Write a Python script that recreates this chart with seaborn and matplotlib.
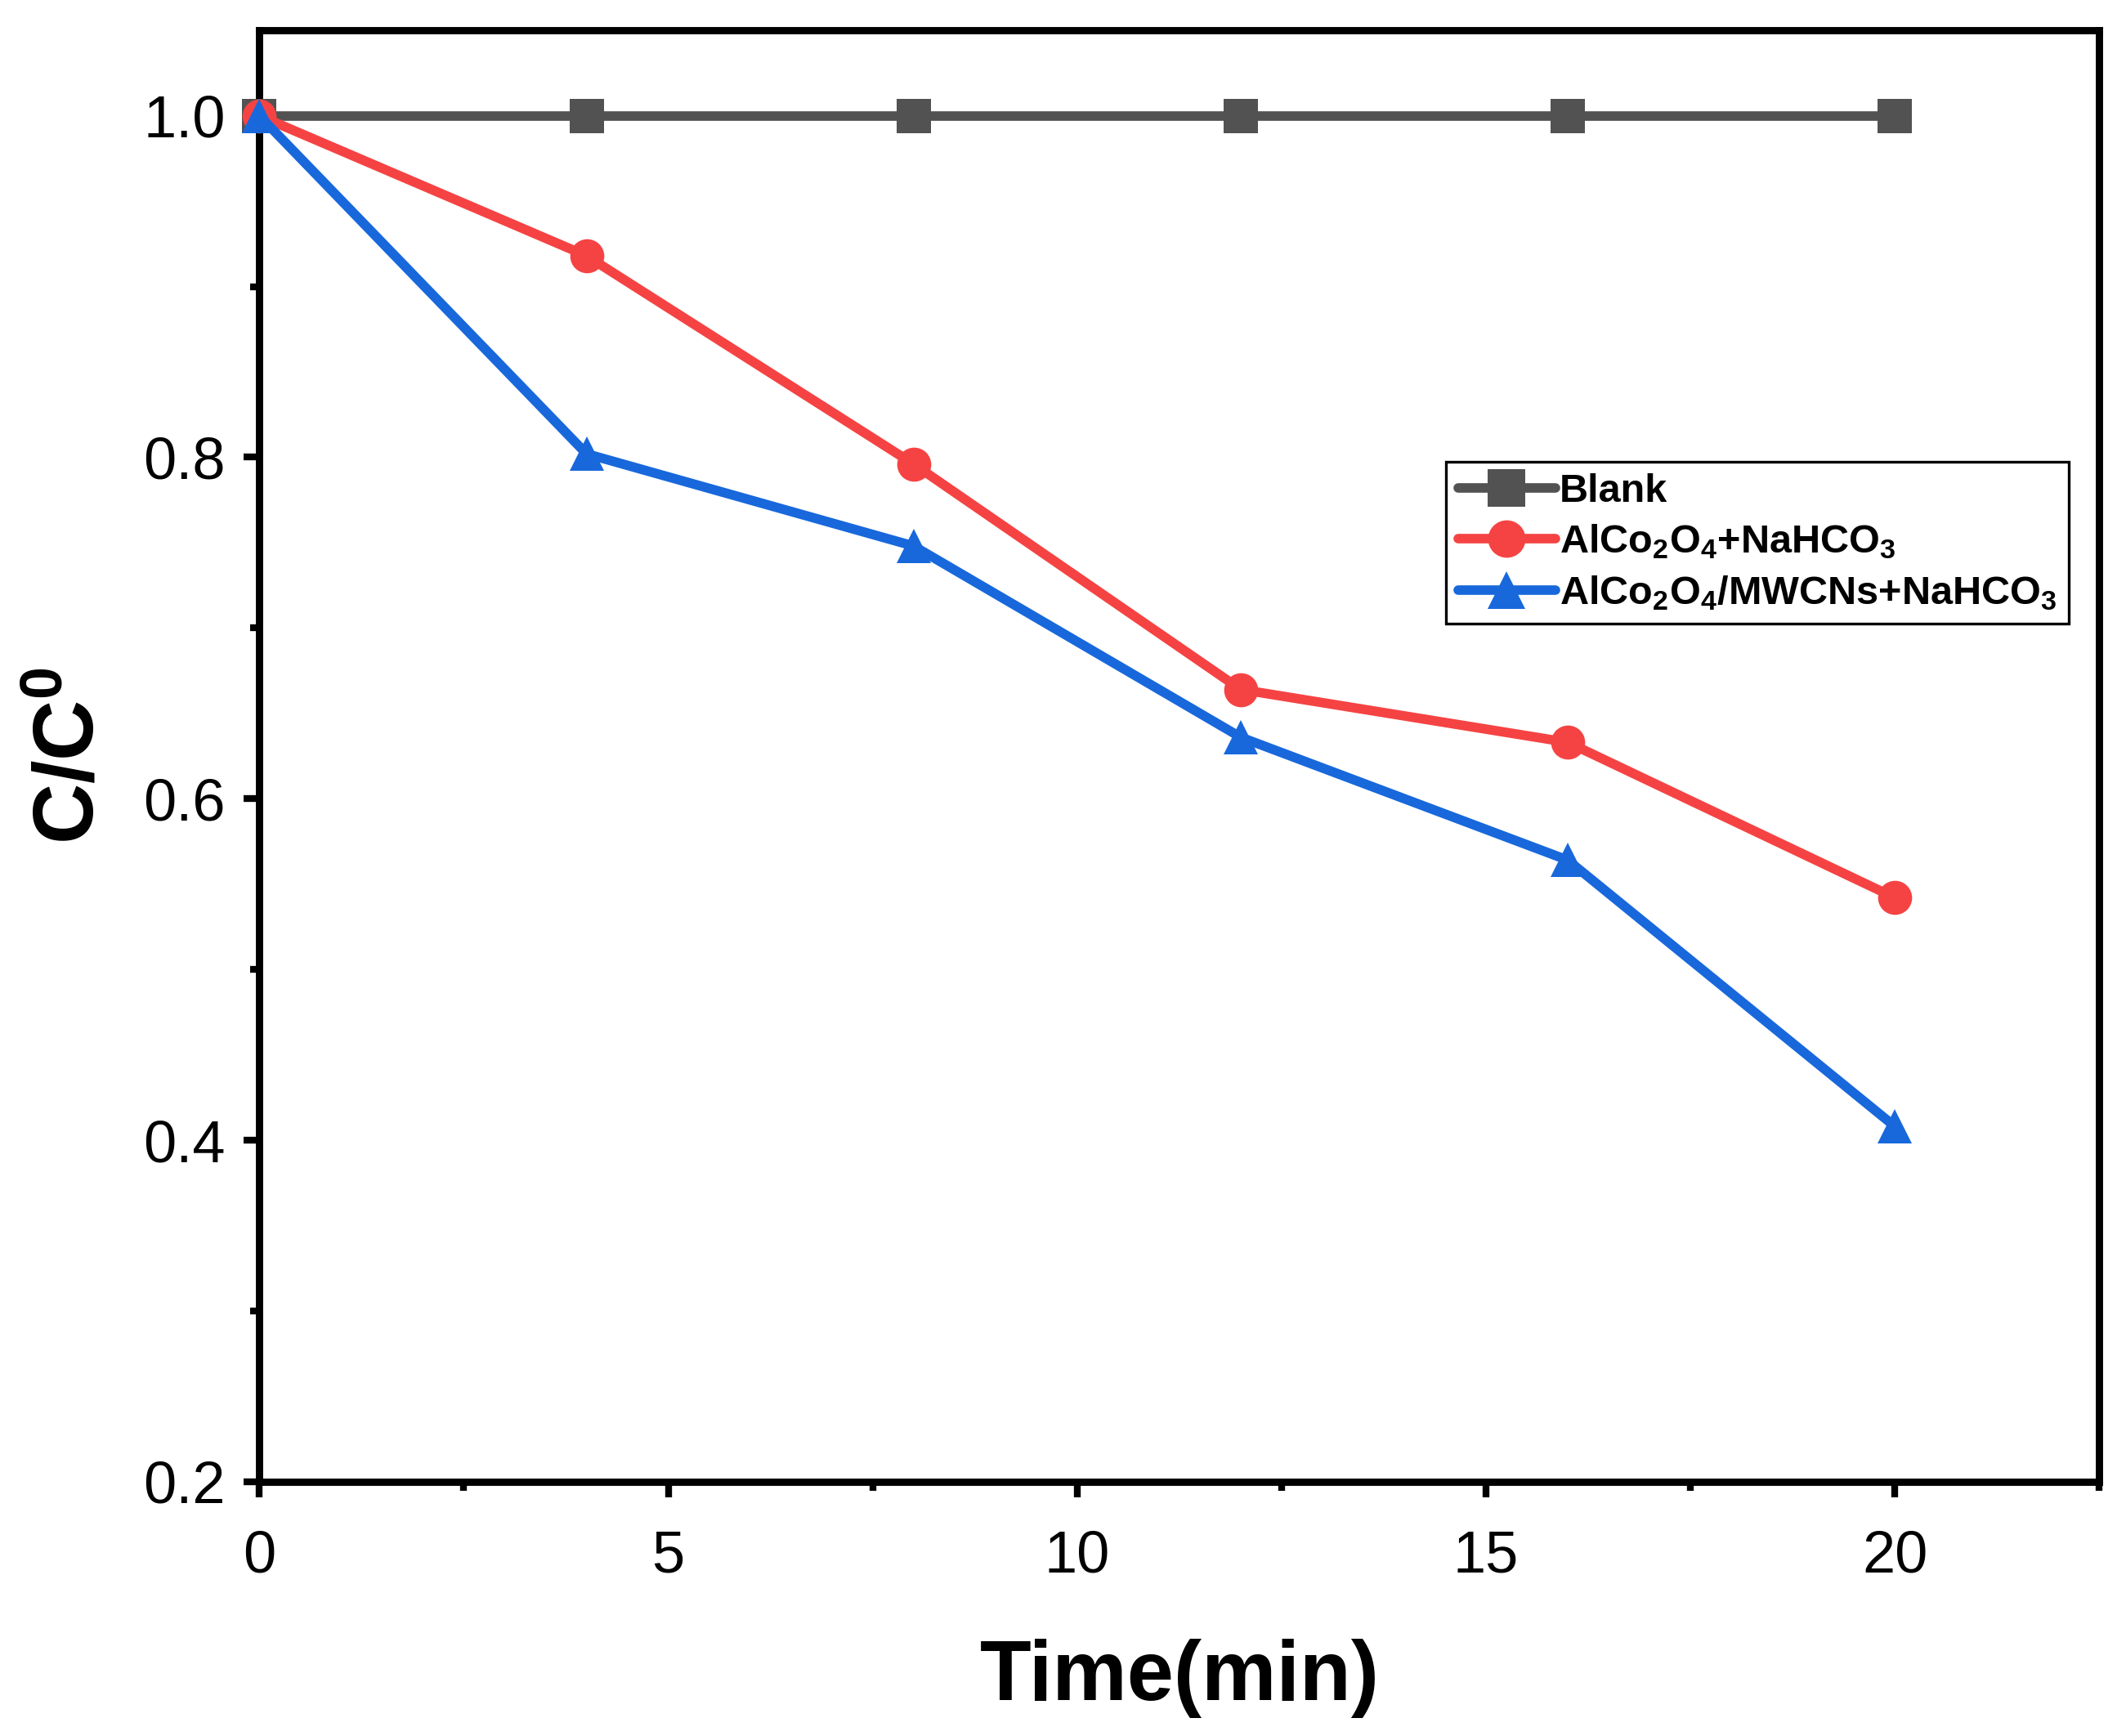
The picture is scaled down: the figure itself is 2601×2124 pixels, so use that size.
import numpy as np
import pandas as pd
import matplotlib
matplotlib.use("Agg")
import matplotlib.pyplot as plt
import seaborn as sns
from matplotlib.ticker import MultipleLocator

# data
time = [0, 4, 8, 12, 16, 20]
blank = [1.0, 1.0, 1.0, 1.0, 1.0, 1.0]
alco = [1.0, 0.918, 0.796, 0.664, 0.633, 0.542]
alco_mwcn = [1.0, 0.802, 0.748, 0.636, 0.564, 0.408]
labels = ["Blank", r"AlCo$_2$O$_4$+NaHCO$_3$", r"AlCo$_2$O$_4$/MWCNs+NaHCO$_3$"]
colors = ["#525252", "#F54343", "#1868DC"]
markers = ["s", "o", "^"]

df = pd.concat([
    pd.DataFrame({"t": time, "c": blank, "s": labels[0]}),
    pd.DataFrame({"t": time, "c": alco, "s": labels[1]}),
    pd.DataFrame({"t": time, "c": alco_mwcn, "s": labels[2]}),
])

sns.set_style("ticks")
plt.rcParams["font.family"] = ["Liberation Sans", "DejaVu Sans"]
plt.rcParams["mathtext.fontset"] = "custom"
plt.rcParams["mathtext.rm"] = "Liberation Sans:bold"
plt.rcParams["mathtext.bf"] = "Liberation Sans:bold"
plt.rcParams["mathtext.default"] = "bf"
for k in ["text.color", "axes.labelcolor", "xtick.color", "ytick.color"]:
    plt.rcParams[k] = "black"

fig = plt.figure(figsize=(13.005, 10.62), dpi=200)
ax = fig.add_axes([0.122, 0.1465, 0.8655, 0.836])

sns.lineplot(data=df, x="t", y="c", hue="s", style="s",
             palette=dict(zip(labels, colors)),
             markers=dict(zip(labels, markers)), dashes=False,
             linewidth=4.2, markersize=15, markeredgewidth=0,
             ax=ax, clip_on=False, zorder=3)

ax.set_xlim(0, 22.5)
ax.set_ylim(0.2, 1.05)
ax.xaxis.set_major_locator(MultipleLocator(5))
ax.xaxis.set_minor_locator(MultipleLocator(2.5))
ax.yaxis.set_major_locator(MultipleLocator(0.2))
ax.yaxis.set_minor_locator(MultipleLocator(0.1))
ax.tick_params(which="major", direction="out", length=7, width=3, labelsize=26)
ax.tick_params(axis="x", which="major", pad=14)
ax.tick_params(axis="y", which="major", pad=8)
ax.tick_params(which="minor", direction="out", length=4, width=3)
for sp in ax.spines.values():
    sp.set_linewidth(3.2)
    sp.set_color("black")

ax.set_xlabel("Time(min)", fontsize=37, fontweight="bold", labelpad=24)
ax.set_ylabel(r"C/C$^0$", fontsize=37, fontweight="bold", labelpad=14)

leg = ax.legend(loc="upper left", bbox_to_anchor=(0.645, 0.703),
                prop={"weight": "bold", "size": 17.5}, frameon=True, fancybox=False,
                edgecolor="black", handlelength=2.45, handletextpad=0.1,
                borderpad=0.3, labelspacing=0.32, borderaxespad=0,
                markerscale=1.1)
leg.get_frame().set_linewidth(1.2)
leg.get_frame().set_alpha(1)

fig.savefig("out.png", dpi=200)
